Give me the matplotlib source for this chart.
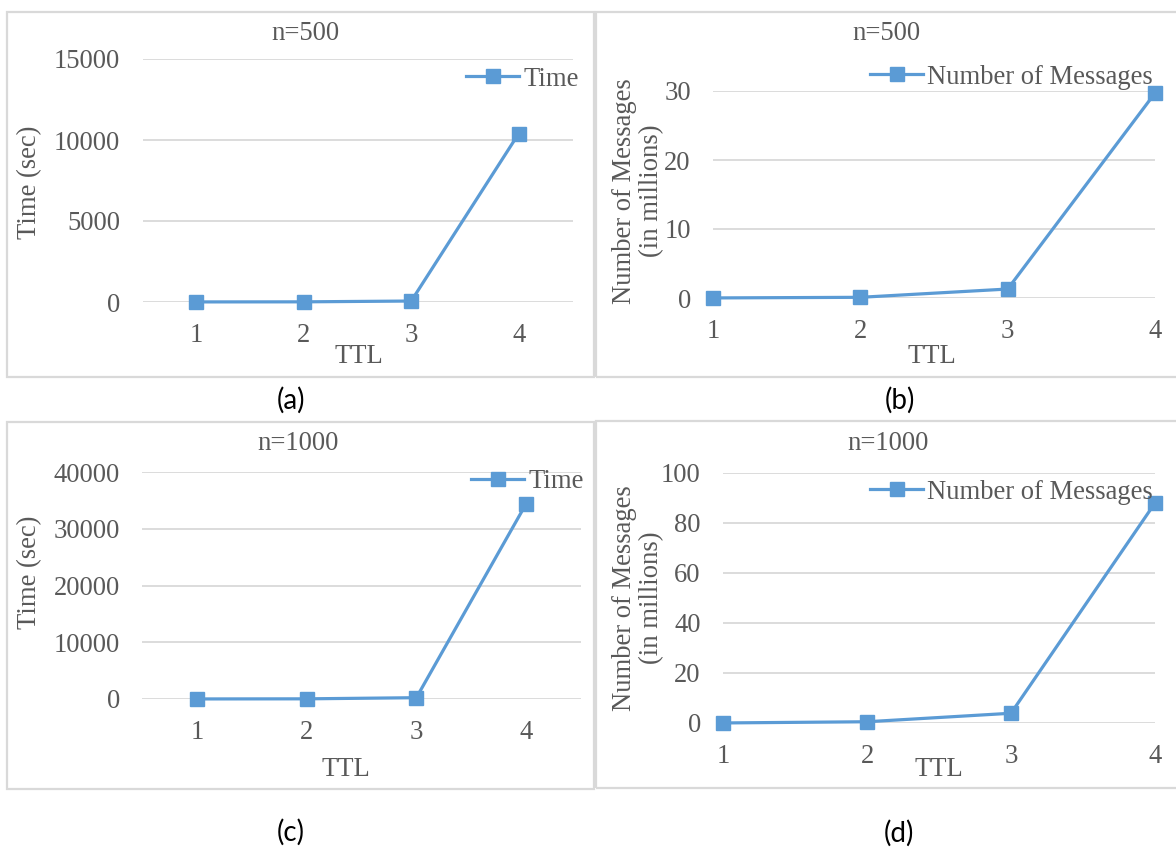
import matplotlib
matplotlib.use("Agg")
import matplotlib.pyplot as plt
from matplotlib.patches import Rectangle

# ---- data ----
ttl = [1, 2, 3, 4]
time_n500 = [5, 10, 60, 10400]          # seconds
msgs_n500 = [0.01, 0.1, 1.3, 29.7]       # millions
time_n1000 = [10, 30, 230, 34400]        # seconds
msgs_n1000 = [0.02, 0.5, 3.9, 88.0]      # millions

yticks_time_n500 = [0, 5000, 10000, 15000]
yticks_msgs_n500 = [0, 10, 20, 30]
yticks_time_n1000 = [0, 10000, 20000, 30000, 40000]
yticks_msgs_n1000 = [0, 20, 40, 60, 80, 100]

W, H = 1176, 848
BLUE = "#5B9BD5"
GRID = "#D9D9D9"
TXT = "#595959"
SERIF = "Liberation Serif"
FS = 19.2

fig = plt.figure(figsize=(W / 100, H / 100), dpi=100)
fig.patch.set_facecolor("white")


def fx(x):
    return x / W


def fy(y):
    return 1 - y / H


def make_axes(x0, x1, y_top, y_bot):
    return fig.add_axes([fx(x0), fy(y_bot), fx(x1) - fx(x0), (y_bot - y_top) / H])


def frame(x0, y0, x1, y1):
    fig.patches.append(Rectangle((fx(x0), fy(y1)), fx(x1) - fx(x0), (y1 - y0) / H,
                                 transform=fig.transFigure, fill=False,
                                 edgecolor=GRID, linewidth=1.6, zorder=0))


def panel(ax, values, yticks, xlim, label, title_xy, ylabel, ylabel_xy,
          ttl_xy, legend_xy, sub, sub_xy):
    ax.plot(ttl, values, color=BLUE, lw=2.3, marker="s", ms=10.5,
            markeredgecolor=BLUE, clip_on=False, zorder=3, label=label)
    ax.set_xlim(*xlim)
    ax.set_ylim(yticks[0], yticks[-1])
    ax.set_xticks(ttl)
    ax.set_yticks(yticks)
    ax.set_yticklabels([str(v) for v in yticks])
    for s in ax.spines.values():
        s.set_visible(False)
    ax.yaxis.grid(True, color=GRID, lw=1.3)
    ax.xaxis.grid(False)
    ax.set_axisbelow(True)
    ax.tick_params(length=0, labelsize=FS, labelcolor=TXT)
    ax.tick_params(axis="y", pad=16)
    ax.tick_params(axis="x", pad=15)
    for t in ax.get_xticklabels() + ax.get_yticklabels():
        t.set_fontfamily(SERIF)
    fig.text(fx(title_xy[0]), fy(title_xy[1]), title_xy[2], ha="center", va="center",
             fontsize=FS, family=SERIF, color=TXT)
    fig.text(fx(ylabel_xy[0]), fy(ylabel_xy[1]), ylabel, ha="center", va="center",
             rotation=90, fontsize=FS, family=SERIF, color=TXT, linespacing=1.15,
             multialignment="center")
    fig.text(fx(ttl_xy[0]), fy(ttl_xy[1]), "TTL", ha="center", va="center",
             fontsize=FS, family=SERIF, color=TXT)
    leg = ax.legend(loc="center left", bbox_to_anchor=(fx(legend_xy[0]), fy(legend_xy[1])),
                    bbox_transform=fig.transFigure, frameon=False, handlelength=2.0,
                    handletextpad=0.15, borderpad=0, borderaxespad=0,
                    prop={"family": SERIF, "size": FS})
    for t in leg.get_texts():
        t.set_color(TXT)
    fig.text(fx(sub_xy[0]), fy(sub_xy[1]), sub, ha="center", va="center",
             fontsize=20, family="Lato", color="black")


# outer frames
frame(7, 12, 594, 377)
frame(596, 12, 1182, 377)
frame(7, 422, 594, 789)
frame(596, 421, 1182, 788)

# (a) time, n=500
ax_a = make_axes(142.5, 572.5, 59, 302)
panel(ax_a, time_n500, yticks_time_n500, (0.5, 4.5), "Time",
      (305, 33, "n=500"), "Time (sec)", (30, 182), (359, 357), (466, 79),
      "(a)", (291, 400))

# (b) messages, n=500
ax_b = make_axes(713, 1155, 91, 298)
panel(ax_b, msgs_n500, yticks_msgs_n500, (1, 4), "Number of Messages",
      (886, 33, "n=500"), "Number of Messages\n(in millions)", (638, 191),
      (932, 357), (870, 77), "(b)", (900, 400))

# (c) time, n=1000
ax_c = make_axes(142, 581, 472, 699)
panel(ax_c, time_n1000, yticks_time_n1000, (0.5, 4.5), "Time",
      (298, 443, "n=1000"), "Time (sec)", (30, 572), (346, 769), (471, 482),
      "(c)", (291, 832))

# (d) messages, n=1000
ax_d = make_axes(723, 1155, 473, 723)
panel(ax_d, msgs_n1000, yticks_msgs_n1000, (1, 4), "Number of Messages",
      (888, 443, "n=1000"), "Number of Messages\n(in millions)", (638, 598),
      (939, 770), (870, 492), "(d)", (899, 833))

fig.savefig("out.png", dpi=100, facecolor="white")
